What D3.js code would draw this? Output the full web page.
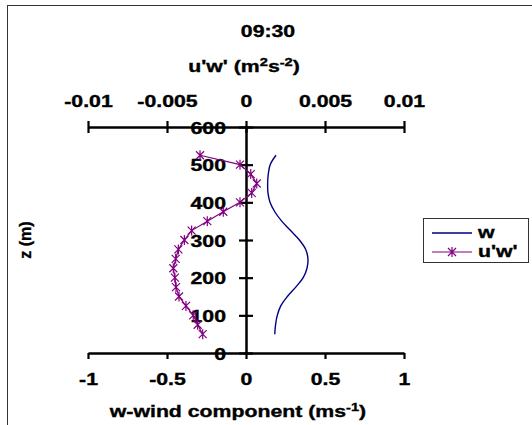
<!DOCTYPE html>
<html>
<head>
<meta charset="utf-8">
<script src="https://cdn.jsdelivr.net/npm/d3@7"></script>
<style>
  html, body { margin: 0; padding: 0; background: #fff; }
  svg { display: block; }
  text { font-family: "Liberation Sans", Arial, sans-serif; font-weight: bold; fill: #000; stroke: #000; stroke-width: 0.35px; }
</style>
</head>
<body>
<svg id="chart" width="532" height="425"></svg>
<script>
// ---- data ----
const heights = [50, 75, 100, 125, 150, 175, 200, 225, 250, 275, 300, 325, 350, 375, 400, 425, 450, 475, 500, 525];
const wValues = [0.182, 0.187, 0.198, 0.22, 0.262, 0.315, 0.362, 0.386, 0.392, 0.378, 0.338, 0.282, 0.226, 0.182, 0.152, 0.139, 0.137, 0.141, 0.153, 0.19];
const uwValues = [-0.00274, -0.00306, -0.00334, -0.0038, -0.00424, -0.00443, -0.0045, -0.0046, -0.00445, -0.00428, -0.0039, -0.00344, -0.00245, -0.00144, -0.00038, 0.00036, 0.00068, 0.0003, -0.00038, -0.00291];
const wTicks = [-1, -0.5, 0, 0.5, 1];
const uwTicks = [-0.01, -0.005, 0, 0.005, 0.01];
const zTicks = [0, 100, 200, 300, 400, 500, 600];
const seriesNames = ["w", "u'w'"];

const SX = 1.33; // horizontal text stretch
const FS = "16px";
const svg = d3.select("#chart");

// chart border
svg.append("rect").attr("x", 7.5).attr("y", 5.5).attr("width", 600).attr("height", 500)
  .attr("fill", "none").attr("stroke", "#333").attr("stroke-width", 1);

const x = d3.scaleLinear().domain([-1, 1]).range([88, 404]);
const xTop = d3.scaleLinear().domain([-0.01, 0.01]).range([88, 404]);
const y = d3.scaleLinear().domain([0, 600]).range([353, 127]);

function stretchText(sel, dx, dy, anchor) {
  sel.attr("x", null).attr("y", null).attr("dy", null)
    .attr("text-anchor", anchor)
    .attr("transform", `translate(${dx},${dy}) scale(${SX},1)`)
    .style("font-size", FS)
    .style("font-family", "'Liberation Sans', Arial, sans-serif")
    .style("font-weight", "bold")
    .style("fill", "#000").style("stroke", "#000").style("stroke-width", "0.35px");
}

// bottom axis
const gB = svg.append("g").attr("transform", `translate(0,${y(0)})`)
  .call(d3.axisBottom(x).tickValues(wTicks).tickFormat(d => String(d)).tickSizeInner(6).tickSizeOuter(0));
// top axis
const gT = svg.append("g").attr("transform", `translate(0,${y(600)})`)
  .call(d3.axisTop(xTop).tickValues(uwTicks).tickFormat(d => String(d)).tickSizeInner(6).tickSizeOuter(0));
gT.selectAll(".tick line").attr("y1", 6);
// left axis at x=0
const gL = svg.append("g").attr("transform", `translate(${x(0)},0)`)
  .call(d3.axisLeft(y).tickValues(zTicks).tickFormat(d => String(d)).tickSizeInner(7).tickSizeOuter(0));
gL.selectAll(".tick line").attr("x2", 7).attr("x1", -7);

[gB, gT, gL].forEach(g => {
  g.select(".domain").attr("stroke", "#000").attr("stroke-width", 2.5);
  g.selectAll(".tick line").attr("stroke", "#000").attr("stroke-width", 2.2);
});
stretchText(gB.selectAll(".tick text"), 0, 32, "middle");
stretchText(gT.selectAll(".tick text"), 0, -20, "middle");
stretchText(gL.selectAll(".tick text"), -20, 6, "end");

// titles
svg.append("text").text("09:30").call(stretchText, 268, 37, "middle");
const t2 = svg.append("text").call(stretchText, 244, 72, "middle");
t2.append("tspan").text("u'w' (m");
t2.append("tspan").text("2").attr("baseline-shift", "super").style("font-size", "11px");
t2.append("tspan").text("s");
t2.append("tspan").text("-2").attr("baseline-shift", "super").style("font-size", "11px");
t2.append("tspan").text(")");

const t3 = svg.append("text").call(stretchText, 238, 417, "middle");
t3.append("tspan").text("w-wind component (ms");
t3.append("tspan").text("-1").attr("baseline-shift", "super").style("font-size", "11px");
t3.append("tspan").text(")");

svg.append("text").text("z (m)")
  .attr("text-anchor", "middle")
  .attr("transform", "translate(31,240) rotate(-90)")
  .style("font-size", "16px");

// w line
const wData = heights.map((h, i) => ({ z: h, v: wValues[i] }));
svg.append("path").datum(wData)
  .attr("fill", "none").attr("stroke", "#000080").attr("stroke-width", 1.4)
  .attr("d", d3.line().x(d => x(d.v)).y(d => y(d.z)).curve(d3.curveCatmullRom));

// u'w' line with star markers
const uwData = heights.map((h, i) => ({ z: h, v: uwValues[i] }));
const purple = "#800080";
svg.append("path").datum(uwData)
  .attr("fill", "none").attr("stroke", purple).attr("stroke-width", 1.2)
  .attr("d", d3.line().x(d => xTop(d.v)).y(d => y(d.z)));
const star = "M-4,-4L4,4M-4,4L4,-4M0,-5L0,5";
svg.append("g").selectAll("path").data(uwData).join("path")
  .attr("transform", d => `translate(${xTop(d.v)},${y(d.z)})`)
  .attr("d", star).attr("fill", "none").attr("stroke", purple).attr("stroke-width", 1.2);

// legend
const lg = svg.append("g");
lg.append("rect").attr("x", 423.5).attr("y", 218.5).attr("width", 105).attr("height", 44)
  .attr("fill", "#fff").attr("stroke", "#333").attr("stroke-width", 1);
const rowsY = [233, 252];
lg.append("line").attr("x1", 432).attr("x2", 472).attr("y1", rowsY[0]).attr("y2", rowsY[0])
  .attr("stroke", "#000080").attr("stroke-width", 1.4);
lg.append("line").attr("x1", 432).attr("x2", 472).attr("y1", rowsY[1]).attr("y2", rowsY[1])
  .attr("stroke", purple).attr("stroke-width", 1.2);
lg.append("path").attr("transform", `translate(452,${rowsY[1]})`).attr("d", star)
  .attr("fill", "none").attr("stroke", purple).attr("stroke-width", 1.2);
seriesNames.forEach((n, i) => {
  lg.append("text").text(n).call(stretchText, 478, rowsY[i] + 5, "start");
});
</script>
</body>
</html>
